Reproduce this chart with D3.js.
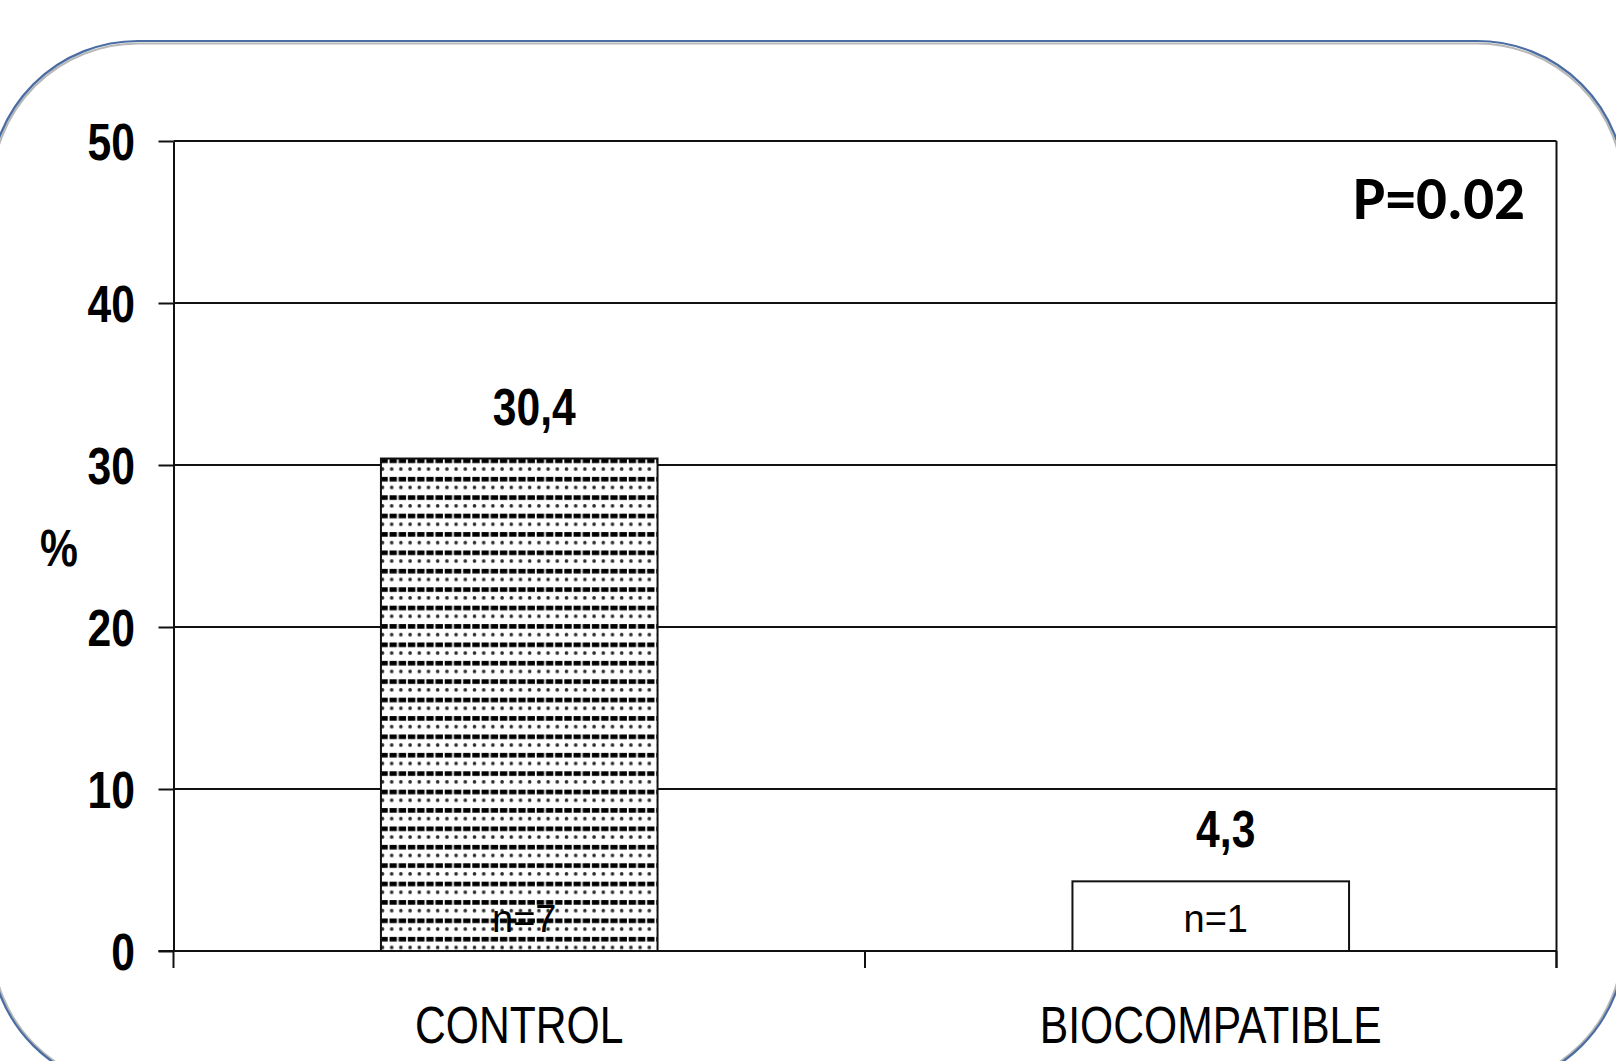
<!DOCTYPE html>
<html>
<head>
<meta charset="utf-8">
<script src="https://cdn.jsdelivr.net/npm/d3@7"></script>
<style>
  html, body { margin: 0; padding: 0; background: #fff; }
  svg { display: block; }
</style>
</head>
<body>
<svg id="chart" width="1616" height="1061"></svg>
<script>
// ---- data ----
const categories = ["CONTROL", "BIOCOMPATIBLE"];
const values = [30.4, 4.3];
const valueLabels = ["30,4", "4,3"];
const countLabels = ["n=7", "n=1"];
const yTicks = [0, 10, 20, 30, 40, 50];
const pValueText = "P=0.02";
const yAxisTitle = "%";

// ---- layout ----
const plot = { left: 173.5, right: 1556.5, top: 141, bottom: 951 };
const NARROW = 0.82; // horizontal compression to mimic a narrow face
const FONT = "'Liberation Sans', Arial, sans-serif";

const svg = d3.select("#chart");

// narrow text helper
function narrowText(g, x, y, txt, opts) {
  return g.append("text")
    .attr("transform", `translate(${x},${y}) scale(${NARROW},1)`)
    .attr("text-anchor", opts.anchor || "middle")
    .attr("font-family", FONT)
    .attr("font-size", opts.size || 52)
    .attr("font-weight", opts.weight || "normal")
    .attr("fill", "#000")
    .text(txt);
}

// defs: hatch pattern for the control bar
const defs = svg.append("defs");
const P = 18.4;
const pat = defs.append("pattern")
  .attr("id", "dashPat")
  .attr("patternUnits", "userSpaceOnUse")
  .attr("x", 380).attr("y", 457.5)
  .attr("width", P).attr("height", P);
pat.append("rect").attr("width", P).attr("height", P).attr("fill", "#fff");
[2.5, 11.7].forEach(cx => pat.append("circle").attr("cx", cx).attr("cy", 11.6).attr("r", 1.8).attr("fill", "#2a2a2a"));
[[0.3, 7.4], [9.5, 7.4]].forEach(([x0, w]) => pat.append("rect").attr("x", x0).attr("y", 1.0).attr("width", w).attr("height", 4.6).attr("fill", "#000"));

// frame (rounded rectangle with shadow line)
svg.append("rect")
  .attr("x", -8).attr("y", 43.5).attr("width", 1631).attr("height", 1044)
  .attr("rx", 146).attr("ry", 146)
  .attr("fill", "none").attr("stroke", "#b8b8b8").attr("stroke-width", 2);
svg.append("rect")
  .attr("x", -10).attr("y", 41).attr("width", 1635).attr("height", 1048)
  .attr("rx", 148).attr("ry", 148)
  .attr("fill", "none").attr("stroke", "#4a6da3").attr("stroke-width", 2.2);

// scales
const x = d3.scaleBand().domain(categories).range([plot.left, plot.right]).padding(0);
const y = d3.scaleLinear().domain([0, 50]).range([plot.bottom, plot.top]);
const barW = x.bandwidth() * 0.4;

// gridlines
svg.append("g").selectAll("line").data(yTicks).join("line")
  .attr("x1", plot.left).attr("x2", plot.right)
  .attr("y1", d => y(d)).attr("y2", d => y(d))
  .attr("stroke", "#111").attr("stroke-width", 2);

// right border
svg.append("line")
  .attr("x1", plot.right).attr("x2", plot.right)
  .attr("y1", y(50)).attr("y2", y(0) + 17)
  .attr("stroke", "#111").attr("stroke-width", 2);

// bars
const fills = ["url(#dashPat)", "#fff"];
svg.append("g").selectAll("rect").data(categories).join("rect")
  .attr("x", d => x(d) + (x.bandwidth() - barW) / 2)
  .attr("y", (d, i) => y(values[i]))
  .attr("width", barW)
  .attr("height", (d, i) => y(0) - y(values[i]))
  .attr("fill", (d, i) => fills[i])
  .attr("stroke", "#111").attr("stroke-width", 2);

// y axis
const yAxis = d3.axisLeft(y).tickValues(yTicks).tickSize(15).tickSizeOuter(0).tickFormat("");
const gy = svg.append("g").attr("transform", `translate(${plot.left},0)`).call(yAxis);
gy.select(".domain").attr("stroke", "#111").attr("stroke-width", 2);
gy.selectAll(".tick line").attr("stroke", "#111").attr("stroke-width", 2);
const gyl = svg.append("g");
yTicks.forEach(t => narrowText(gyl, plot.left - 38.5, y(t) + 19, String(t), { anchor: "end", weight: "bold" }));

// x axis: ticks at band boundaries
const boundaries = [x.range()[0], ...categories.slice(1).map(c => x(c)), x.range()[1]];
svg.append("line")
  .attr("x1", plot.left - 15).attr("x2", plot.right)
  .attr("y1", y(0)).attr("y2", y(0))
  .attr("stroke", "#111").attr("stroke-width", 2);
svg.append("g").selectAll("line").data(boundaries).join("line")
  .attr("x1", d => d).attr("x2", d => d)
  .attr("y1", y(0)).attr("y2", y(0) + 17)
  .attr("stroke", "#111").attr("stroke-width", 2);

// category labels
const gc = svg.append("g");
categories.forEach(c => narrowText(gc, x(c) + x.bandwidth() / 2, y(0) + 92, c, {}));

// value labels
const gv = svg.append("g");
categories.forEach((c, i) => narrowText(gv, x(c) + x.bandwidth() / 2 + 15, y(values[i]) - 34, valueLabels[i], { weight: "bold" }));

// count labels inside bars
svg.append("g").selectAll("text").data(categories).join("text")
  .attr("x", d => x(d) + x.bandwidth() / 2 + 5)
  .attr("y", y(0) - 19)
  .attr("text-anchor", "middle")
  .attr("font-family", FONT)
  .attr("font-size", 38)
  .attr("fill", "#000")
  .text((d, i) => countLabels[i]);

// y axis title
narrowText(svg, 59, 566, yAxisTitle, { weight: "bold" });

// P-value annotation
svg.append("text")
  .attr("x", 1525).attr("y", 219)
  .attr("text-anchor", "end")
  .attr("font-family", "Carlito, Lato, 'Open Sans', sans-serif")
  .attr("font-size", 61).attr("font-weight", "bold")
  .attr("fill", "#000")
  .text(pValueText);
</script>
</body>
</html>
